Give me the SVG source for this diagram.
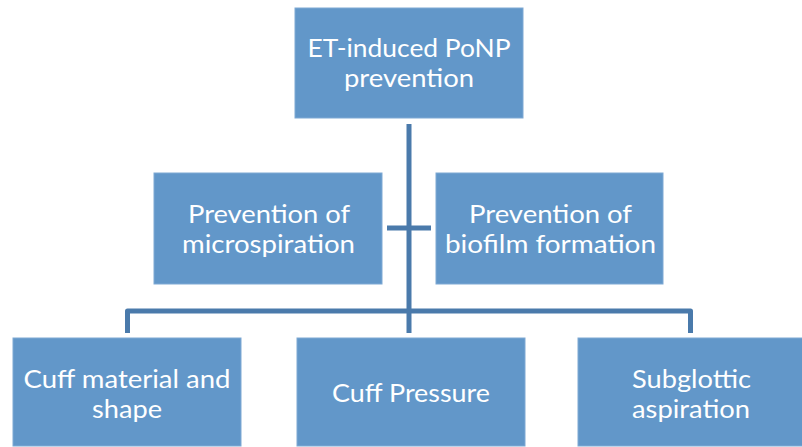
<svg xmlns="http://www.w3.org/2000/svg" width="802" height="447" viewBox="0 0 802 447">
<style>
.box{fill:#6297C9;stroke:#7FA9D4;stroke-width:1}
.t{font-family:Lato,"Noto Sans",sans-serif;font-size:24.5px;fill:#ffffff;text-anchor:middle}
.c{fill:none;stroke:#4A7AAB;stroke-width:5}
</style>
<rect x="0" y="0" width="802" height="447" fill="#ffffff"/>
<g id="connectors">
<line class="c" x1="409" y1="124" x2="409" y2="333"/>
<line class="c" x1="387" y1="228" x2="431" y2="228"/>
<path class="c" d="M127.5 333 V311 H690.5 V333" stroke-linejoin="round"/>
</g>
<g id="node-top">
<rect class="box" x="295" y="8" width="228" height="110"/>
<text class="t" x="409" y="57" textLength="203" lengthAdjust="spacingAndGlyphs">ET-induced PoNP</text>
<text class="t" x="409" y="87" textLength="130" lengthAdjust="spacingAndGlyphs">prevention</text>
</g>
<g id="node-micro">
<rect class="box" x="154" y="173" width="228" height="111"/>
<text class="t" x="269" y="223" textLength="162" lengthAdjust="spacingAndGlyphs">Prevention of</text>
<text class="t" x="268.5" y="253" textLength="173" lengthAdjust="spacingAndGlyphs">microspiration</text>
</g>
<g id="node-biofilm">
<rect class="box" x="436" y="173" width="227" height="111"/>
<text class="t" x="550.5" y="223" textLength="163" lengthAdjust="spacingAndGlyphs">Prevention of</text>
<text class="t" x="550.5" y="253" textLength="211" lengthAdjust="spacingAndGlyphs">biofilm formation</text>
</g>
<g id="node-cuff-material">
<rect class="box" x="13" y="338" width="228" height="108"/>
<text class="t" x="127" y="387.5" textLength="207" lengthAdjust="spacingAndGlyphs">Cuff material and</text>
<text class="t" x="127" y="417.5" textLength="70" lengthAdjust="spacingAndGlyphs">shape</text>
</g>
<g id="node-cuff-pressure">
<rect class="box" x="297" y="338" width="228" height="108"/>
<text class="t" x="411" y="402" textLength="158" lengthAdjust="spacingAndGlyphs">Cuff Pressure</text>
</g>
<g id="node-subglottic">
<rect class="box" x="578" y="338" width="228" height="108"/>
<text class="t" x="691.5" y="387.5" textLength="119" lengthAdjust="spacingAndGlyphs">Subglottic</text>
<text class="t" x="691" y="417.5" textLength="118" lengthAdjust="spacingAndGlyphs">aspiration</text>
</g>
</svg>
